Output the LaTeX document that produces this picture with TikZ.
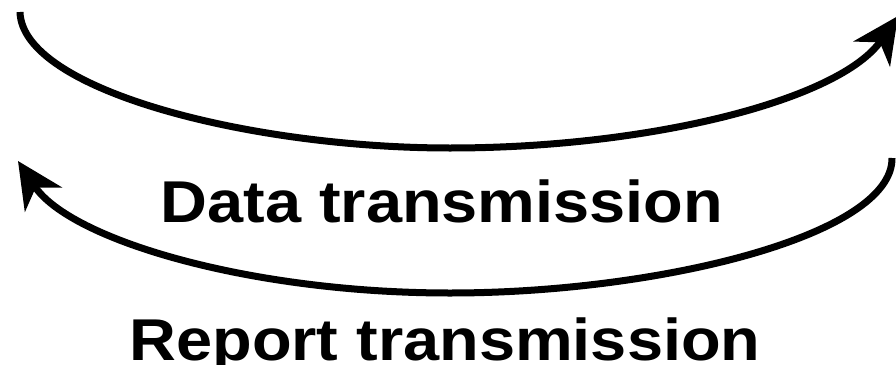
\documentclass[tikz,border=0pt]{standalone}
\usepackage{fontspec}
\setmainfont{Liberation Sans}
\usetikzlibrary{arrows.meta}
\begin{document}
\begin{tikzpicture}[x=1pt,y=-1pt,
  flow/.style={line width=7pt,-{Stealth[length=46pt,width=44pt,inset=14pt]}},
  caption/.style={font=\bfseries\fontsize{59}{61}\selectfont,inner sep=0pt,
    anchor=base,xscale=1.1}]
\useasboundingbox (0,0) rectangle (896,364);
% outgoing data arc (top)
\coordinate (dstart) at (20,12);
\coordinate (dend) at (898,16);
\draw[flow] (dstart) .. controls (22,90) and (250,148) .. (450,148)
  .. controls (650,148) and (840,100) .. (dend);
% returning report arc (bottom)
\coordinate (rstart) at (892,158);
\coordinate (rend) at (18,161);
\draw[flow] (rstart) .. controls (893,235) and (660,293) .. (450,293)
  .. controls (250,293) and (70,240) .. (rend);
\node[caption] (data) at (442,222) {Data transmission};
\node[caption] (report) at (445,360) {Report transmission};
\end{tikzpicture}
\end{document}
